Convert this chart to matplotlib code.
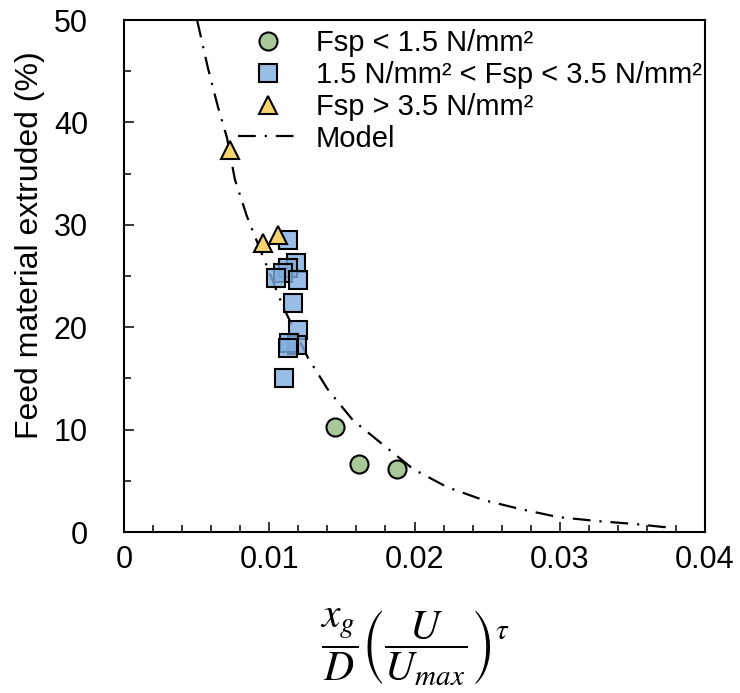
import matplotlib
matplotlib.use("Agg")
import matplotlib.pyplot as plt
from matplotlib.ticker import MultipleLocator

plt.rcParams['font.family'] = ['Liberation Sans', 'DejaVu Sans']
plt.rcParams['mathtext.fontset'] = 'stix'

# measured points, grouped by splitting strength
low_x = [0.01453, 0.01618, 0.01880]
low_y = [10.3, 6.6, 6.2]

mid_x = [0.01129, 0.01184, 0.01129, 0.01095, 0.01046, 0.01198,
         0.01164, 0.01198, 0.01191, 0.01136, 0.01129, 0.01101]
mid_y = [28.5, 26.3, 25.8, 25.3, 24.8, 24.6,
         22.4, 19.7, 18.3, 18.5, 18.0, 15.0]

high_x = [0.0073, 0.00957, 0.0106]
high_y = [37.3, 28.2, 29.0]

# model curve
model_x = [0.00503, 0.00578, 0.00647, 0.00709, 0.00764, 0.00847, 0.01095,
           0.01267, 0.01404, 0.01577, 0.0199, 0.02224, 0.02472, 0.02726,
           0.02988, 0.03256, 0.03518, 0.03711, 0.0378]
model_y = [50.0, 45.3, 41.5, 38.5, 34.4, 30.8, 22.0,
           17.0, 13.9, 10.9, 6.15, 4.39, 3.13, 2.25,
           1.46, 1.07, 0.78, 0.49, 0.45]

x_ticks = [0, 0.01, 0.02, 0.03, 0.04]
x_tick_labels = ['0', '0.01', '0.02', '0.03', '0.04']

labels = ['Fsp < 1.5 N/mm²', '1.5 N/mm² < Fsp < 3.5 N/mm²',
          'Fsp > 3.5 N/mm²', 'Model']

fig = plt.figure(figsize=(7.4, 6.93), dpi=100)
ax = fig.add_axes([124/740, 1 - 532/693, 581/740, 512/693])

ax.plot(model_x, model_y, color='black', linewidth=1.6,
        linestyle=(0, (8, 4, 1, 4)), label=labels[3], zorder=2)
ax.plot(low_x, low_y, linestyle='none', marker='o', markersize=13,
        markerfacecolor='#A9C89A', markeredgecolor='black',
        markeredgewidth=1.5, label=labels[0], zorder=3)
ax.plot(mid_x, mid_y, linestyle='none', marker='s', markersize=13,
        markerfacecolor=(0.50, 0.68, 0.87, 0.8), markeredgecolor='black',
        markeredgewidth=1.5, label=labels[1], zorder=3)
ax.plot(high_x, high_y, linestyle='none', marker='^', markersize=12.5,
        markerfacecolor='#F7D36E', markeredgecolor='black',
        markeredgewidth=1.5, label=labels[2], zorder=3)

ax.set_xlim(0, 0.04)
ax.set_ylim(0, 50)
ax.set_xticks(x_ticks)
ax.set_xticklabels(x_tick_labels)
ax.xaxis.set_minor_locator(MultipleLocator(0.002))
ax.yaxis.set_major_locator(MultipleLocator(10))
ax.yaxis.set_minor_locator(MultipleLocator(5))

ax.tick_params(which='both', direction='in', width=1.1, labelsize=22,
               top=False, right=False)
ax.tick_params(axis='x', which='major', pad=9)
ax.tick_params(axis='y', which='major', pad=26)
ax.tick_params(which='major', length=7)
ax.tick_params(which='minor', length=5)
for sp in ax.spines.values():
    sp.set_linewidth(1.5)

ax.set_ylabel('Feed material extruded (%)', fontsize=23)
ax.yaxis.set_label_coords(-0.136, 0.56)
ax.set_xlabel(r'$\dfrac{x_g}{D}\left(\dfrac{U}{U_{max}}\right)^{\tau}$',
              fontsize=30)
ax.xaxis.set_label_coords(0.5, -0.145)

handles, labs = ax.get_legend_handles_labels()
order = [1, 2, 3, 0]
ax.legend([handles[i] for i in order], [labs[i] for i in order],
          loc='upper left', bbox_to_anchor=(0.196, 0.982), frameon=False,
          fontsize=21, handlelength=2.05, handletextpad=0.62,
          labelspacing=0.13, borderpad=0, borderaxespad=0)

fig.savefig('out.png', dpi=100)
